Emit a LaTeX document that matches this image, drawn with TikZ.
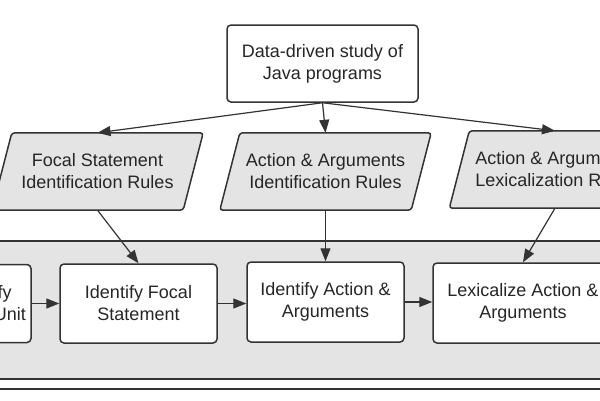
\documentclass[tikz,border=0pt]{standalone}
\usepackage{fontspec}
\setmainfont{Liberation Sans}
\usetikzlibrary{arrows.meta,backgrounds}
\definecolor{linec}{HTML}{333333}
\definecolor{grayfill}{HTML}{E4E4E4}
\definecolor{txt}{HTML}{262626}
\begin{document}
\begin{tikzpicture}[x=1pt,y=-1pt,
  lbl/.style={align=center, text=txt, font=\fontsize{18}{22}\selectfont, inner sep=0pt},
  box/.style={lbl, draw=linec, line width=1.5pt, rounded corners=4pt, fill=white},
  ptext/.style={lbl, minimum width=191pt, minimum height=77pt},
  pshape/.style={draw=linec, line width=1.5pt, rounded corners=3pt, fill=grayfill},
  arr/.style={draw=linec, line width=1.2pt, -{Triangle[length=13pt,width=10pt]}}]
\clip (0,0) rectangle (600,400);
% container
\draw[draw=linec, line width=1.5pt] (-10,241) rectangle (610,389);
\draw[draw=linec, line width=1.5pt, fill=grayfill] (-10,241) rectangle (610,379);
% top box
\node[box, minimum width=191pt, minimum height=77pt] (top) at (322.5,63.5) {Data-driven study of\\Java programs};
% rule nodes
\node[ptext] (p1) at (97.5,171.5) {Focal Statement\\Identification Rules};
\node[ptext] (p2) at (325.5,171.5) {Action \& Arguments\\Identification Rules};
\node[ptext] (p3) at (555,169.5) {Action \& Arguments\\Lexicalization Rules};
\begin{pgfonlayer}{background}
\foreach \p in {p1,p2,p3}{
  \draw[pshape] ([xshift=-10pt]\p.south west) -- ([xshift=10pt]\p.north west) -- ([xshift=10pt]\p.north east) -- ([xshift=-10pt]\p.south east) -- cycle;
}
\end{pgfonlayer}
% process boxes
\node[box, minimum width=97pt, minimum height=78pt] (b1) at (-17.5,303.5) {Identify\\Action Unit};
\node[box, minimum width=157pt, minimum height=79pt] (b2) at (138.5,303.5) {Identify Focal\\Statement};
\node[box, minimum width=157pt, minimum height=80pt] (b3) at (325.5,302) {Identify Action \&\\Arguments};
\node[box, minimum width=180pt, minimum height=80pt] (b4) at (523,303) {Lexicalize Action \&\\Arguments};
% connectors
\draw[arr] (top.south) -- (p1.north);
\draw[arr] (top.south) -- (p2.north);
\draw[arr] (top.south) -- (p3.north);
\draw[arr] (p1.south) -- (b2.north);
\draw[arr] (p2.south) -- (b3.north);
\draw[arr] (p3.south) -- (b4.north);
\draw[arr] (b1.east) -- (b1.east -| b2.west);
\draw[arr] (b2.east) -- (b2.east -| b3.west);
\draw[arr] (b3.east) -- (b3.east -| b4.west);
\end{tikzpicture}
\end{document}
